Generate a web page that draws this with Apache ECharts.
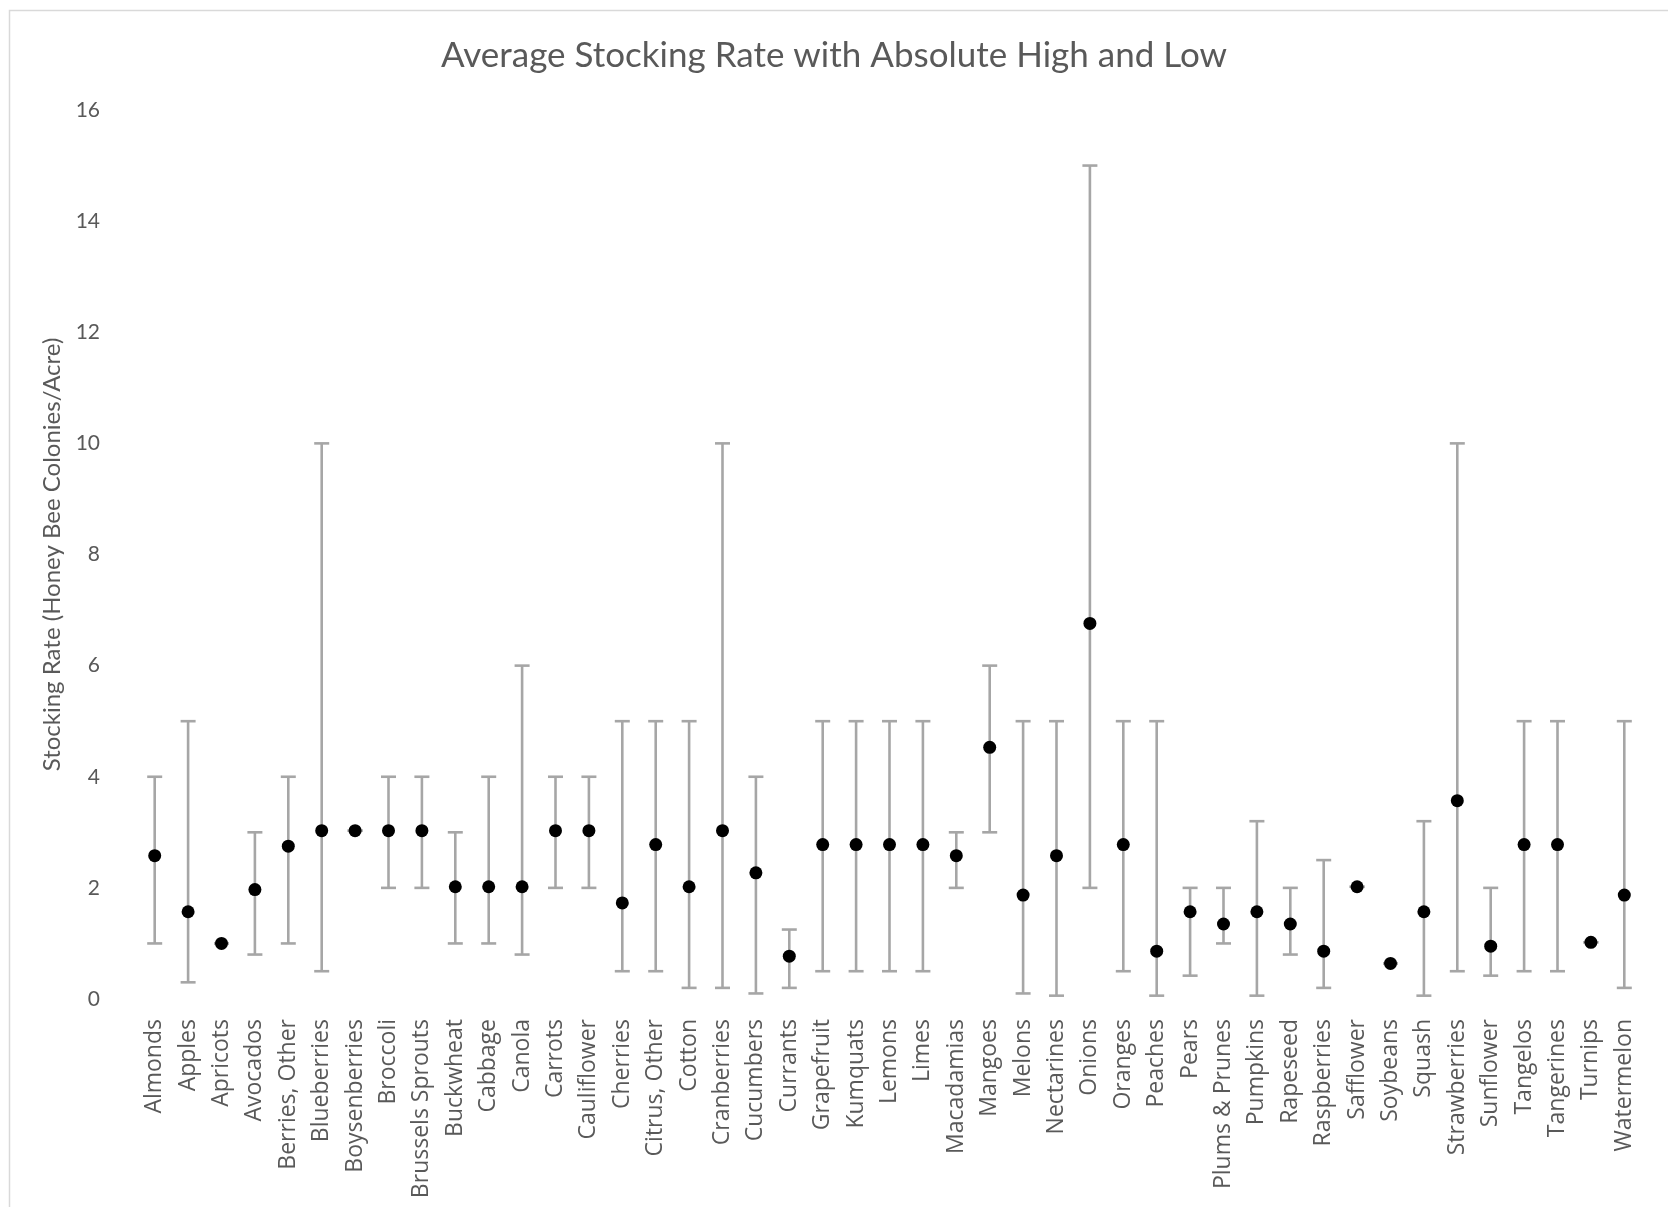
<!DOCTYPE html>
<html>
<head>
<meta charset="utf-8">
<script src="https://cdn.jsdelivr.net/npm/echarts@6/dist/echarts.min.js"></script>
<style>
  html, body { margin: 0; padding: 0; background: #fff; }
  #stocking-chart { width: 1668px; height: 1207px; }
</style>
</head>
<body>
<div id="stocking-chart"></div>
<script>
var crops = ['Almonds', 'Apples', 'Apricots', 'Avocados', 'Berries, Other', 'Blueberries',
  'Boysenberries', 'Broccoli', 'Brussels Sprouts', 'Buckwheat', 'Cabbage', 'Canola', 'Carrots',
  'Cauliflower', 'Cherries', 'Citrus, Other', 'Cotton', 'Cranberries', 'Cucumbers', 'Currants',
  'Grapefruit', 'Kumquats', 'Lemons', 'Limes', 'Macadamias', 'Mangoes', 'Melons', 'Nectarines',
  'Onions', 'Oranges', 'Peaches', 'Pears', 'Plums & Prunes', 'Pumpkins', 'Rapeseed',
  'Raspberries', 'Safflower', 'Soybeans', 'Squash', 'Strawberries', 'Sunflower', 'Tangelos',
  'Tangerines', 'Turnips', 'Watermelon'];

var avgRate = [2.58, 1.57, 1, 1.97, 2.75, 3.03, 3.03, 3.03, 3.03, 2.02, 2.02, 2.02, 3.03,
  3.03, 1.73, 2.78, 2.02, 3.03, 2.27, 0.77, 2.78, 2.78, 2.78, 2.78, 2.58, 4.53, 1.87, 2.58,
  6.76, 2.78, 0.86, 1.57, 1.35, 1.57, 1.35, 0.86, 2.02, 0.64, 1.57, 3.57, 0.95, 2.78, 2.78,
  1.02, 1.87];

var highRate = [4, 5, 1, 3, 4, 10, 3.03, 4, 4, 3, 4, 6, 4, 4, 5, 5, 5, 10, 4, 1.25, 5, 5, 5,
  5, 3, 6, 5, 5, 15, 5, 5, 2, 2, 3.2, 2, 2.5, 2.02, 0.64, 3.2, 10, 2, 5, 5, 1.02, 5];

var lowRate = [1, 0.3, 1, 0.8, 1, 0.5, 3.03, 2, 2, 1, 1, 0.8, 2, 2, 0.5, 0.5, 0.2, 0.2, 0.1,
  0.2, 0.5, 0.5, 0.5, 0.5, 2, 3, 0.1, 0.06, 2, 0.5, 0.06, 0.42, 1, 0.06, 0.8, 0.2, 2.02,
  0.64, 0.06, 0.5, 0.42, 0.5, 0.5, 1.02, 0.2];

var rangeData = crops.map(function (c, i) { return [i, lowRate[i], highRate[i]]; });

var chart = echarts.init(document.getElementById('stocking-chart'));

var option = {
  backgroundColor: '#ffffff',
  animation: false,
  graphic: [{
    type: 'rect',
    left: 7,
    top: 8,
    shape: { width: 1660, height: 1215 },
    style: { fill: 'none', stroke: '#d9d9d9', lineWidth: 1.5 },
    silent: true,
    z: -1
  }],
  title: {
    text: 'Average Stocking Rate with Absolute High and Low',
    left: 'center',
    top: 33,
    textStyle: {
      fontFamily: 'Lato',
      fontWeight: 'normal',
      fontSize: 35,
      color: '#595959'
    }
  },
  grid: {
    left: 138,
    right: 27,
    top: 110,
    bottom: 208
  },
  xAxis: {
    type: 'category',
    data: crops,
    axisLine: { show: false },
    axisTick: { show: false },
    axisLabel: {
      rotate: 90,
      interval: 0,
      margin: 20,
      fontFamily: 'Open Sans',
      fontSize: 23,
      color: '#595959'
    }
  },
  yAxis: {
    type: 'value',
    min: 0,
    max: 16,
    interval: 2,
    name: 'Stocking Rate (Honey Bee Colonies/Acre)',
    nameLocation: 'middle',
    nameGap: 74,
    nameTextStyle: {
      fontFamily: 'Lato',
      fontSize: 24,
      color: '#595959'
    },
    axisLine: { show: false },
    axisTick: { show: false },
    splitLine: { show: false },
    axisLabel: {
      margin: 38,
      fontFamily: 'Lato',
      fontSize: 21,
      color: '#595959'
    }
  },
  series: [{
    name: 'Range',
    type: 'custom',
    data: rangeData,
    renderItem: function (params, api) {
      var x = api.value(0);
      var lowPt = api.coord([x, api.value(1)]);
      var highPt = api.coord([x, api.value(2)]);
      var half = 7.5;
      var style = { stroke: '#a6a6a6', lineWidth: 2.6 };
      return {
        type: 'group',
        children: [
          { type: 'line', shape: { x1: lowPt[0], y1: lowPt[1], x2: highPt[0], y2: highPt[1] }, style: style },
          { type: 'line', shape: { x1: lowPt[0] - half, y1: lowPt[1], x2: lowPt[0] + half, y2: lowPt[1] }, style: style },
          { type: 'line', shape: { x1: highPt[0] - half, y1: highPt[1], x2: highPt[0] + half, y2: highPt[1] }, style: style }
        ]
      };
    },
    z: 1
  }, {
    name: 'Average',
    type: 'scatter',
    data: avgRate,
    symbol: 'circle',
    symbolSize: 13,
    itemStyle: { color: '#000000', opacity: 1 },
    z: 2
  }]
};

chart.setOption(option);
window.addEventListener('resize', function () {
  chart.resize();
});
</script>
</body>
</html>
